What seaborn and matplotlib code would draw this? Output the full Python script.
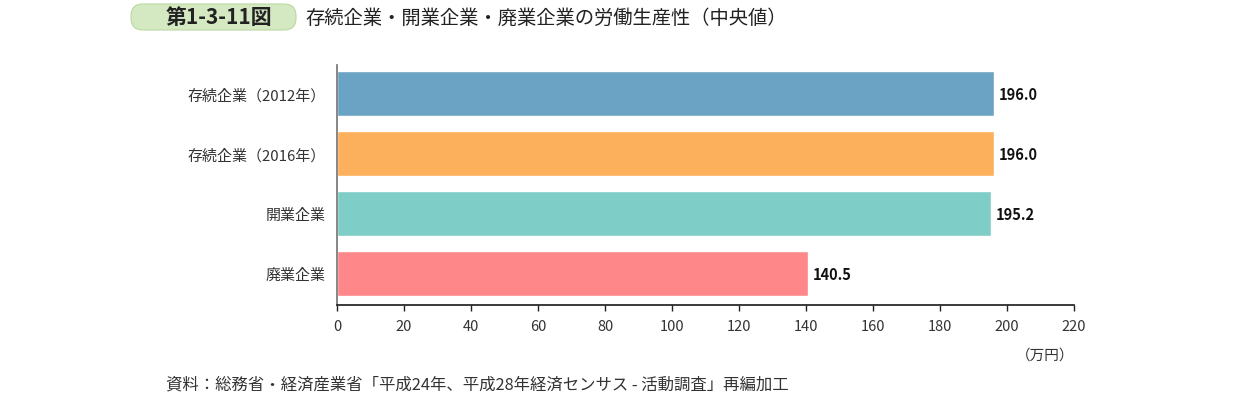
import matplotlib
matplotlib.use('Agg')
import matplotlib.pyplot as plt
import seaborn as sns
import pandas as pd
from matplotlib.patches import FancyBboxPatch

categories = ['存続企業（2012年）', '存続企業（2016年）', '開業企業', '廃業企業']
values = [196.0, 196.0, 195.2, 140.5]
colors = ['#6aa3c4', '#fdb05b', '#7ecdc6', '#fe8789']
xticks = [0, 20, 40, 60, 80, 100, 120, 140, 160, 180, 200, 220]

sns.set_theme(style='white')
plt.rcParams['font.family'] = ['Noto Sans CJK JP', 'DejaVu Sans']

df = pd.DataFrame({'cat': categories, 'val': values})

fig = plt.figure(figsize=(12.41, 4.06), dpi=100)

# overlay in pixel coordinates for the header box
bg = fig.add_axes([0, 0, 1, 1])
bg.set_xlim(0, 1241)
bg.set_ylim(406, 0)
bg.axis('off')
box = FancyBboxPatch((131, 5), 165, 26, boxstyle='round,pad=0,rounding_size=12',
                     facecolor='#d4e9c1', edgecolor='#b9d9a0', linewidth=0.8)
bg.add_patch(box)
bg.text(219, 18, '第1-3-11図', ha='center', va='center',
        fontsize=15, fontweight='bold', color='#222222')
bg.text(305, 18, '存続企業・開業企業・廃業企業の労働生産性（中央値）',
        ha='left', va='center', fontsize=13.9, color='#222222')
bg.text(1074, 356, '（万円）', ha='right', va='center', fontsize=10.5, color='#333333')
bg.text(166, 385, '資料：総務省・経済産業省「平成24年、平成28年経済センサス - 活動調査」再編加工',
        ha='left', va='center', fontsize=11.8, color='#333333')

ax = fig.add_axes([0.2716, 0.2463, 0.5939, 0.5913])
sns.barplot(data=df, x='val', y='cat', hue='cat', palette=colors, orient='h',
            width=0.75, legend=False, ax=ax, saturation=1)

ax.set_xlim(0, 220)
ax.set_ylim(3.52, -0.48)
ax.set_xticks(xticks)
ax.set_xticklabels([str(t) for t in xticks], fontsize=10.5, color='#333333')
ax.tick_params(axis='x', length=4, width=1, color='#222222', pad=6, bottom=True)
ax.tick_params(axis='y', length=0, labelsize=10.8, labelcolor='#333333', pad=8)
ax.set_xlabel('')
ax.set_ylabel('')
for s in ['top', 'right']:
    ax.spines[s].set_visible(False)
ax.spines['left'].set_color('#777777')
ax.spines['bottom'].set_color('#222222')

for i, v in enumerate(values):
    ax.text(v + 1.5, i, f'{v:.1f}', va='center', ha='left', fontsize=10.5,
            fontweight='bold', color='#111111')

fig.savefig('out.png', dpi=100)
